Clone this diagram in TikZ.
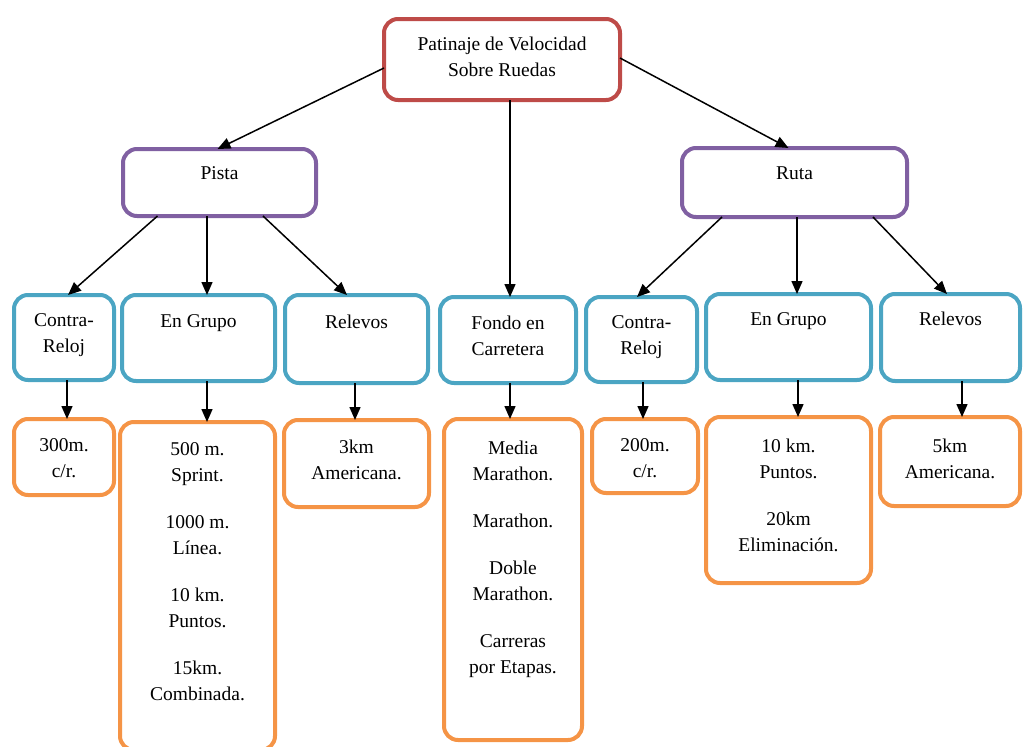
\documentclass[tikz,border=0pt]{standalone}
\usepackage{fontspec}
\setmainfont{Liberation Serif}
\usetikzlibrary{arrows.meta,calc}
\definecolor{cred}{RGB}{190,75,72}
\definecolor{cpur}{RGB}{128,96,162}
\definecolor{cblu}{RGB}{75,165,195}
\definecolor{cora}{RGB}{245,148,70}
% name, style, x1, y1, x2, y2 (outer edges, px), first baseline offset, text
\newcommand\bx[8]{%
  \node[#2, anchor=north west, inner sep=0pt, outer sep=0pt] (#1) at (#3+2,#4+2)
   {\parbox[t][\dimexpr #6pt-#4pt-4pt\relax][t]{\dimexpr #5pt-#3pt-4pt\relax}{\centering\rule{0pt}{#7pt}#8}};}
\tikzset{
  boxbase/.style={draw, line width=4pt, rounded corners=14pt, fill=white},
  rootbox/.style={boxbase, draw=cred},
  midbox/.style={boxbase, draw=cpur},
  catbox/.style={boxbase, draw=cblu},
  leafbox/.style={boxbase, draw=cora},
  arr/.style={line width=1.5pt, -{Triangle[length=13pt,width=11pt]}}
}
\begin{document}
\begin{tikzpicture}[x=1pt, y=-1pt, font=\rmfamily\fontsize{19.5pt}{26pt}\selectfont]
\useasboundingbox (0,0) rectangle (1023,747);
\bx{root}{rootbox}{382}{17}{622}{102}{31}{Patinaje de Velocidad\\Sobre Ruedas}
\bx{pista}{midbox}{121}{147}{318}{218}{30}{Pista}
\bx{ruta}{midbox}{680}{146}{909}{219}{31}{Ruta}
\bx{crL}{catbox}{12}{293}{116}{382}{31}{Contra-\\Reloj}
\bx{egL}{catbox}{120}{293}{277}{383}{32}{En Grupo}
\bx{reL}{catbox}{283}{293}{430}{385}{33}{Relevos}
\bx{fon}{catbox}{438}{295}{578}{385}{32}{Fondo en\\Carretera}
\bx{crR}{catbox}{584}{295}{699}{384}{31}{Contra-\\Reloj}
\bx{egR}{catbox}{704}{292}{873}{382}{31}{En Grupo}
\bx{reR}{catbox}{879}{292}{1022}{383}{31}{Relevos}
\bx{l300}{leafbox}{12}{417}{116}{497}{32}{300m.\\c/r.}
\bx{l500}{leafbox}{118}{420}{277}{752}{33}{500 m.\\Sprint.\\[21pt]1000 m.\\Línea.\\[21pt]10 km.\\Puntos.\\[21pt]15km.\\Combinada.}
\bx{l3km}{leafbox}{282}{418}{431}{509}{33}{3km\\Americana.}
\bx{lmed}{leafbox}{442}{417}{584}{742}{35}{Media\\Marathon.\\[21pt]Marathon.\\[21pt]Doble\\Marathon.\\[21pt]Carreras\\por Etapas.}
\bx{l200}{leafbox}{590}{417}{700}{495}{32}{200m.\\c/r.}
\bx{l10}{leafbox}{704}{415}{873}{585}{35}{10 km.\\Puntos.\\[21pt]20km\\Eliminación.}
\bx{l5}{leafbox}{878}{415}{1022}{508}{35}{5km\\Americana.}
% root connectors
\draw[arr] ([yshift=-8.5pt]root.west) -- ([xshift=-2pt]pista.north);
\draw[arr] ([yshift=1.5pt]root.east) -- ([xshift=-6pt]ruta.north);
\draw[arr] ([xshift=8pt]root.south) -- ([xshift=2pt]fon.north);
% pista connectors
\draw[arr] ([xshift=-62pt]pista.south) -- ([xshift=4pt]crL.north);
\draw[arr] ([xshift=-12.5pt]pista.south) -- ([xshift=8.5pt]egL.north);
\draw[arr] ([xshift=43.5pt]pista.south) -- ([xshift=-9.5pt]reL.north);
% ruta connectors
\draw[arr] ([xshift=-72.5pt]ruta.south) -- ([xshift=-4.5pt]crR.north);
\draw[arr] ([xshift=2.5pt]ruta.south) -- ([xshift=8.5pt]egR.north);
\draw[arr] ([xshift=78.5pt]ruta.south) -- ([xshift=-3.5pt]reR.north);
% category to leaf
\draw[arr] ([xshift=3pt]crL.south) -- ([xshift=3pt]l300.north);
\draw[arr] ([xshift=8.5pt]egL.south) -- ([xshift=9.5pt]l500.north);
\draw[arr] ([xshift=-1.5pt]reL.south) -- ([xshift=-1.5pt]l3km.north);
\draw[arr] ([xshift=2pt]fon.south) -- ([xshift=-3pt]lmed.north);
\draw[arr] ([xshift=1.5pt]crR.south) -- ([xshift=-2pt]l200.north);
\draw[arr] ([xshift=9.5pt]egR.south) -- ([xshift=9.5pt]l10.north);
\draw[arr] ([xshift=11.5pt]reR.south) -- ([xshift=12pt]l5.north);
\end{tikzpicture}
\end{document}
